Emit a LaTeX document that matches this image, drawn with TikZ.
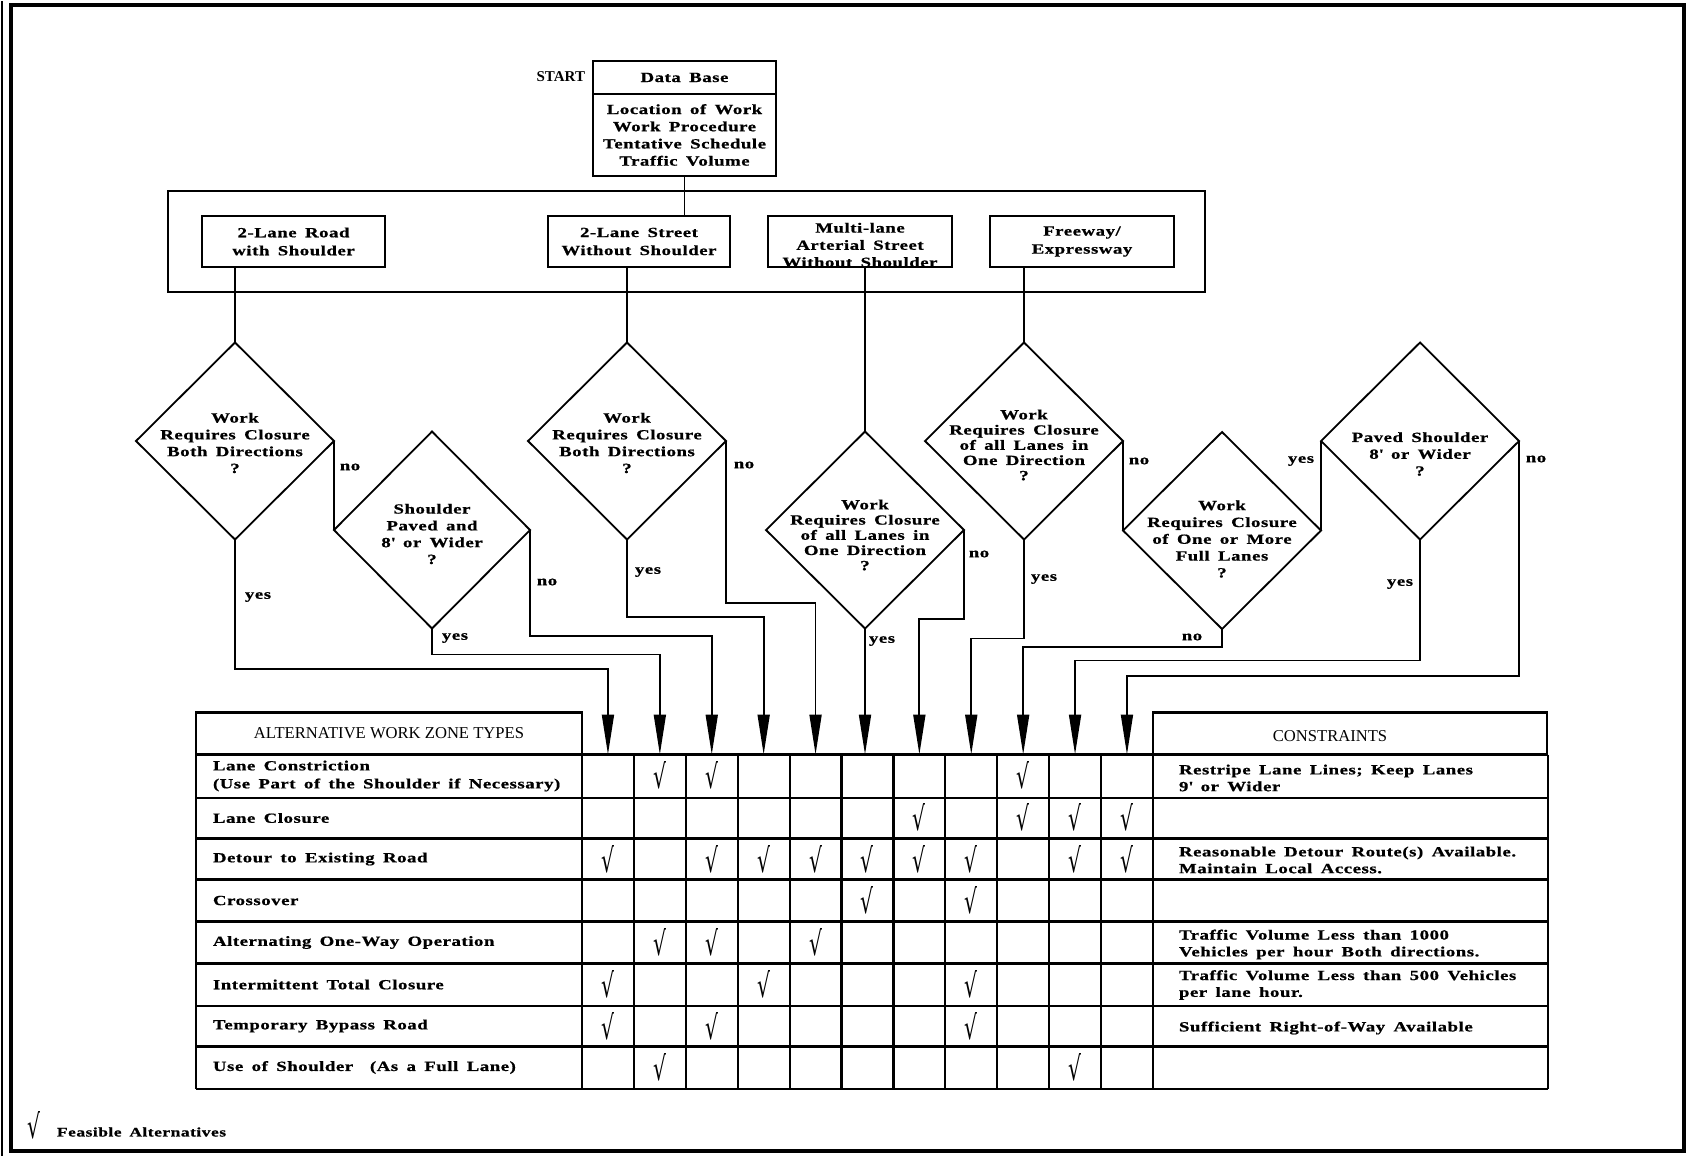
\documentclass[tikz,border=0pt]{standalone}
\usepackage{fontspec}
\usepackage{graphicx}
\setmainfont{Liberation Serif}
\newfontfamily\bodyfont[FakeStretch=1.34,LetterSpace=4,WordSpace=1.6,FakeBold=0.8]{Liberation Serif}
\newfontfamily\chkfont{DejaVu Sans}
\usetikzlibrary{arrows.meta,shapes.geometric}
\newcommand\bodytxt{\bodyfont\bfseries\fontsize{7pt}{8.4pt}\selectfont}
\newcommand\hdtxt{\rmfamily\fontsize{8.3pt}{10pt}\selectfont}
\newcommand\starttxt{\rmfamily\bfseries\fontsize{7.5pt}{9pt}\selectfont}
\newcommand\chkmark{\resizebox{6.5pt}{13.5pt}{\chkfont √}}
\begin{document}
\begin{tikzpicture}[x=0.5pt,y=-0.5pt,
  every node/.style={inner sep=0pt, outer sep=0pt},
  ln/.style={line width=0.9pt},
  box/.style={draw, line width=0.9pt, align=center, font=\bodytxt},
  dia/.style={draw, diamond, line width=0.9pt, minimum width=99pt, minimum height=98.5pt},
  txt/.style={align=center, font=\bodytxt},
  lab/.style={font=\bodytxt},
  rowtxt/.style={anchor=west, align=left, font=\bodytxt},
  arr/.style={line width=0.9pt, -{Triangle[length=20pt,width=6pt]}},
  tl/.style={line width=1.1pt},
  hdr/.style={font=\hdtxt}
]
\path[use as bounding box] (0,0) rectangle (1690,1157);
\fill[white] (0,0) rectangle (1690,1157);
% frame
\draw[line width=2pt] (11,5) rectangle (1684,1151);
\draw[line width=0.6pt] (2,1) -- (2,1156);

% data base
\node[box, minimum width=91.5pt, minimum height=16.5pt] (dbt) at (684.5,77.5) {Data Base};
\node[box, minimum width=91.5pt, minimum height=41pt, font={\bodyfont\bfseries\fontsize{7pt}{8.6pt}\selectfont}] (dbb) at (684.5,135) {Location of Work\\Work Procedure\\Tentative Schedule\\Traffic Volume};
\node[font=\starttxt, anchor=east] (start) at (585,77) {START};

% road types
\node[draw, ln, minimum width=518.5pt, minimum height=50.5pt] (grp) at (686.5,241.5) {};
\node[box, minimum width=91.5pt, minimum height=25.5pt, font={\bodyfont\bfseries\fontsize{7pt}{9pt}\selectfont}] (r1) at (293.5,241.5) {2-Lane Road\\with Shoulder};
\node[box, minimum width=91pt, minimum height=25.5pt, font={\bodyfont\bfseries\fontsize{7pt}{9pt}\selectfont}] (r2) at (639,241.5) {2-Lane Street\\Without Shoulder};
\node[box, minimum width=92pt, minimum height=25.5pt] (r3) at (860,241.5) {};
\node[txt, font={\bodyfont\bfseries\fontsize{7pt}{8.6pt}\selectfont}] (r3t) at (860,245) {Multi-lane\\Arterial Street\\Without Shoulder};
\node[box, minimum width=92pt, minimum height=25.5pt, font={\bodyfont\bfseries\fontsize{7pt}{9pt}\selectfont}] (r4) at (1082,241.5) {Freeway/\\Expressway};

% decisions
\node[dia] (d1) at (235,441) {};
\node[dia, minimum width=98pt] (d2) at (432,530) {};
\node[dia] (d3) at (627,441) {};
\node[dia] (d4) at (865,530) {};
\node[dia] (d5) at (1024,441) {};
\node[dia] (d6) at (1222,530.5) {};
\node[dia] (d7) at (1420,441) {};

\node[txt] (q1) at (235,443) {Work\\Requires Closure\\Both Directions\\?};
\node[txt] (q2) at (432,534) {Shoulder\\Paved and\\8\textquotesingle{} or Wider\\?};
\node[txt] (q3) at (627,443) {Work\\Requires Closure\\Both Directions\\?};
\node[txt, font={\bodyfont\bfseries\fontsize{7pt}{7.6pt}\selectfont}] (q4) at (865,535) {Work\\Requires Closure\\of all Lanes in\\One Direction\\?};
\node[txt, font={\bodyfont\bfseries\fontsize{7pt}{7.6pt}\selectfont}] (q5) at (1024,445) {Work\\Requires Closure\\of all Lanes in\\One Direction\\?};
\node[txt] (q6) at (1222,539) {Work\\Requires Closure\\of One or More\\Full Lanes\\?};
\node[txt] (q7) at (1420,454) {Paved Shoulder\\8\textquotesingle{} or Wider\\?};

% connectors
\draw[ln] (dbb.south) -- (dbb.south |- r2.north);
\draw[ln] (d1.north) -- (d1.north |- r1.south);
\draw[ln] (d3.north) -- (d3.north |- r2.south);
\draw[ln] (d4.north) -- (d4.north |- r3.south);
\draw[ln] (d5.north) -- (d5.north |- r4.south);
\draw[ln] (d1.east) -- (d2.west);
\draw[ln] (d5.east) -- (d6.west);
\draw[ln] (d6.east) -- (d7.west);

% column targets
\foreach \k in {1,...,11} \coordinate (t\k) at ({582+(\k-0.5)*51.9},754.5);

\draw[arr] (d1.south) -- ++(0,129.5) -| (t1);
\draw[arr] (d2.south) -- ++(0,26) -| (t2);
\draw[arr] (d2.east) -- ++(0,106) -| (t3);
\draw[arr] (d3.south) -- ++(0,77.5) -| (t4);
\draw[arr] (d3.east) -- ++(0,162) -| (t5);
\draw[arr] (d4.south) -- (d4.south |- t6);
\draw[arr] (d4.east) -- ++(0,89) -| (t7);
\draw[arr] (d5.south) -- ++(0,99) -| (t8);
\draw[arr] (d6.south) -- ++(0,18) -| (t9);
\draw[arr] (d7.south) -- ++(0,121) -| (t10);
\draw[arr] (d7.east) -- ++(0,235) -| (t11);

% yes / no labels
\node[lab] (l1n) at (350,467) {no};
\node[lab] (l1y) at (258,597) {yes};
\node[lab] (l2n) at (547,582) {no};
\node[lab] (l2y) at (455,638) {yes};
\node[lab] (l3n) at (744,465) {no};
\node[lab] (l3y) at (648,572) {yes};
\node[lab] (l4n) at (979,554) {no};
\node[lab] (l4y) at (882,641) {yes};
\node[lab] (l5n) at (1139,461) {no};
\node[lab] (l5y) at (1044,579) {yes};
\node[lab] (l6y) at (1301,461) {yes};
\node[lab] (l6n) at (1192,637) {no};
\node[lab] (l7n) at (1536,459) {no};
\node[lab] (l7y) at (1400,584) {yes};

% table
\node[draw, tl, minimum width=193pt, minimum height=21pt, font=\hdtxt] (althdr) at (389,733.5) {ALTERNATIVE WORK ZONE TYPES};
\node[draw, tl, minimum width=197pt, minimum height=21pt] (conhdr) at (1350,733.5) {};
\node[hdr] (contxt) at (1330,736) {CONSTRAINTS};
\foreach \y in {754.5,797.6,838.5,879.5,921.5,963.5,1005.6,1046.5,1088.6}
  \draw[tl] (196,\y) -- (1548,\y);
\foreach \x in {196,1548}
  \draw[tl] (\x,754.5) -- (\x,1088.6);
\foreach \k in {0,...,11}
  \draw[tl] ({582+\k*51.9},754.5) -- ({582+\k*51.9},1088.6);

\node[rowtxt, font={\bodyfont\bfseries\fontsize{7pt}{9pt}\selectfont}] (a1) at (213,776) {Lane Constriction\\(Use Part of the Shoulder if Necessary)};
\node[rowtxt] (a2) at (213,818) {Lane Closure};
\node[rowtxt] (a3) at (213,859) {Detour to Existing Road};
\node[rowtxt] (a4) at (213,900.5) {Crossover};
\node[rowtxt] (a5) at (213,942.5) {Alternating One-Way Operation};
\node[rowtxt] (a6) at (213,984.5) {Intermittent Total Closure};
\node[rowtxt] (a7) at (213,1026) {Temporary Bypass Road};
\node[rowtxt] (a8) at (213,1067.5) {Use of Shoulder\ \ (As a Full Lane)};

\node[rowtxt] (c1) at (1179,778) {Restripe Lane Lines; Keep Lanes\\9\textquotesingle{} or Wider};
\node[rowtxt] (c3) at (1179,860) {Reasonable Detour Route(s) Available.\\Maintain Local Access.};
\node[rowtxt] (c5) at (1179,944.5) {Traffic Volume Less than 1000\\Vehicles per hour Both directions.};
\node[rowtxt] (c6) at (1179,985) {Traffic Volume Less than 500 Vehicles\\per lane hour.};
\node[rowtxt] (c7) at (1179,1028) {Sufficient Right-of-Way Available};

\foreach \r/\c in {1/2,1/3,1/9,
                   2/7,2/9,2/10,2/11,
                   3/1,3/3,3/4,3/5,3/6,3/7,3/8,3/10,3/11,
                   4/6,4/8,
                   5/2,5/3,5/5,
                   6/1,6/4,6/8,
                   7/1,7/3,7/8,
                   8/2,8/10}
  \node (k\r-\c) at ({582+(\c-0.5)*51.9},{754.5+(\r-0.5)*41.76}) {\chkmark};

% legend
\node (lgk) at (34,1125) {\chkmark};
\node[lab, anchor=west, font={\bodyfont\bfseries\fontsize{6.5pt}{7pt}\selectfont}] (lgt) at (57,1132) {Feasible Alternatives};
\end{tikzpicture}
\end{document}
